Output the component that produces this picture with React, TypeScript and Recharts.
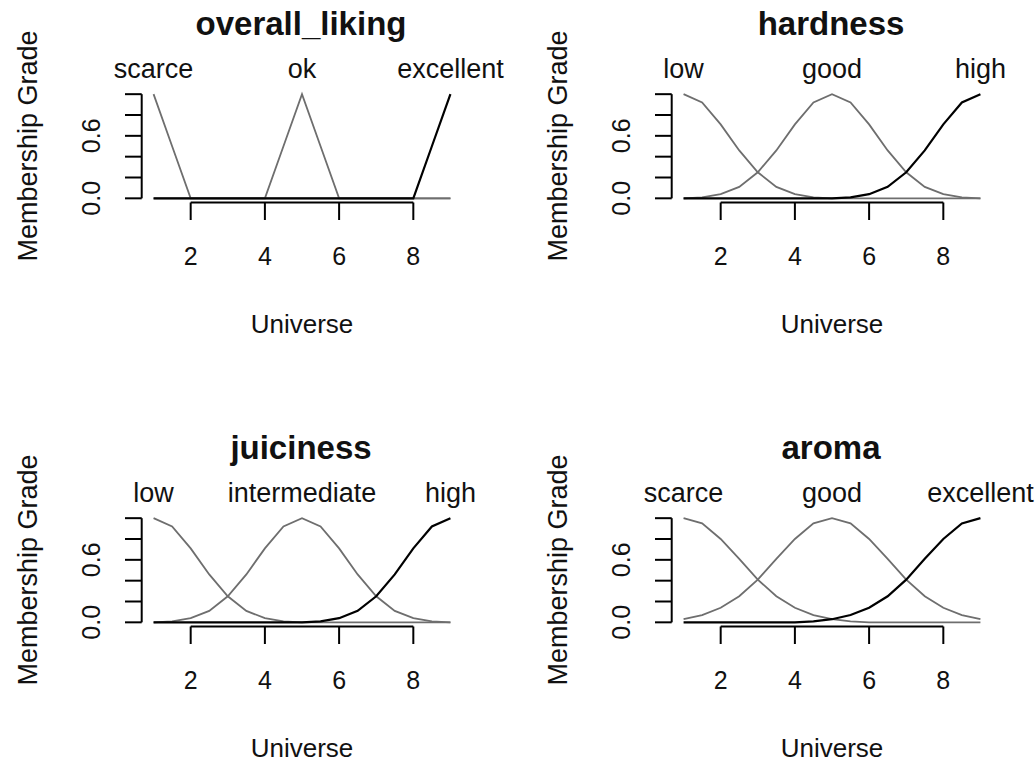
import React from 'react';
import { LineChart, Line, XAxis, YAxis, ReferenceLine, ReferenceDot } from 'recharts';

// universe sampled every 0.5
const universe = [1, 1.5, 2, 2.5, 3, 3.5, 4, 4.5, 5, 5.5, 6, 6.5, 7, 7.5, 8, 8.5, 9];

const likingNames = ['scarce', 'ok', 'excellent'];
const likingCenters = [1, 5, 9];
const likingScarce = [1, 0.5, 0, 0, 0, 0, 0, 0, 0, 0, 0, 0, 0, 0, 0, 0, 0];
const likingOk = [0, 0, 0, 0, 0, 0, 0, 0.5, 1, 0.5, 0, 0, 0, 0, 0, 0, 0];
const likingExcellent = [0, 0, 0, 0, 0, 0, 0, 0, 0, 0, 0, 0, 0, 0, 0, 0.5, 1];

const hardnessNames = ['low', 'good', 'high'];
const hardnessCenters = [1, 5, 9];
const hardnessLow = [1, 0.92, 0.71, 0.46, 0.25, 0.11, 0.04, 0.01, 0, 0, 0, 0, 0, 0, 0, 0, 0];
const hardnessGood = [0, 0.01, 0.04, 0.11, 0.25, 0.46, 0.71, 0.92, 1, 0.92, 0.71, 0.46, 0.25, 0.11, 0.04, 0.01, 0];
const hardnessHigh = [0, 0, 0, 0, 0, 0, 0, 0, 0, 0.01, 0.04, 0.11, 0.25, 0.46, 0.71, 0.92, 1];

const juicinessNames = ['low', 'intermediate', 'high'];
const juicinessCenters = [1, 5, 9];
const juicinessLow = [1, 0.92, 0.71, 0.46, 0.25, 0.11, 0.04, 0.01, 0, 0, 0, 0, 0, 0, 0, 0, 0];
const juicinessMid = [0, 0.01, 0.04, 0.11, 0.25, 0.46, 0.71, 0.92, 1, 0.92, 0.71, 0.46, 0.25, 0.11, 0.04, 0.01, 0];
const juicinessHigh = [0, 0, 0, 0, 0, 0, 0, 0, 0, 0.01, 0.04, 0.11, 0.25, 0.46, 0.71, 0.92, 1];

const aromaNames = ['scarce', 'good', 'excellent'];
const aromaCenters = [1, 5, 9];
const aromaScarce = [1, 0.95, 0.8, 0.61, 0.41, 0.25, 0.14, 0.07, 0.03, 0.01, 0, 0, 0, 0, 0, 0, 0];
const aromaGood = [0.03, 0.07, 0.14, 0.25, 0.41, 0.61, 0.8, 0.95, 1, 0.95, 0.8, 0.61, 0.41, 0.25, 0.14, 0.07, 0.03];
const aromaExcellent = [0, 0, 0, 0, 0, 0, 0, 0.01, 0.03, 0.07, 0.14, 0.25, 0.41, 0.61, 0.8, 0.95, 1];

const xTicks = [2, 4, 6, 8];
const yTicks = [0, 0.2, 0.4, 0.6, 0.8, 1];
const yLabelled = [0, 0.6];

const X_MIN = 0.68;
const X_MAX = 9.32;
const Y_MIN = -0.04;
const Y_MAX = 1.04;

const FONT = '"Liberation Sans", Arial, sans-serif';
const lineColors = ['#6e6e6e', '#6e6e6e', '#000000'];
const lineWidths = [1.8, 1.8, 2.2];

const XTick = (p: any) => (
  <text x={p.x} y={p.y + 43} textAnchor="middle" fontSize={25} fontFamily={FONT} fill="#111">
    {p.payload.value}
  </text>
);

const YTick = (p: any) => {
  const v = p.payload.value;
  if (!yLabelled.includes(v)) return <g />;
  const tx = p.x - 23;
  return (
    <text x={tx} y={p.y} transform={`rotate(-90, ${tx}, ${p.y})`} textAnchor="middle"
      fontSize={25} fontFamily={FONT} fill="#111">
      {v.toFixed(1)}
    </text>
  );
};

interface PanelProps {
  title: string;
  names: string[];
  centers: number[];
  series: number[][];
  left: number;
  top: number;
}

const Panel: React.FC<PanelProps> = ({ title, names, centers, series, left, top }) => {
  const rows = universe.map((x, i) => ({ x, s0: series[0][i], s1: series[1][i], s2: series[2][i] }));
  return (
    <div style={{ position: 'absolute', left, top, width: 518, height: 338 }}>
      <LineChart width={518} height={338} data={rows} margin={{ top: 90, right: 55.7, bottom: 95.5, left: 0 }}>
        <XAxis dataKey="x" type="number" domain={[X_MIN, X_MAX]} ticks={xTicks} interval={0} axisLine={false}
          tickLine={{ stroke: '#000', strokeWidth: 2 }} tickSize={17.5} height={40} tick={<XTick />} />
        <YAxis type="number" domain={[Y_MIN, Y_MAX]} ticks={yTicks} interval={0} axisLine={false} width={141.7}
          tickLine={{ stroke: '#000', strokeWidth: 2 }} tickSize={16.7} tick={<YTick />} />
        <ReferenceLine segment={[{ x: 2, y: Y_MIN }, { x: 8, y: Y_MIN }]} stroke="#000" strokeWidth={2} ifOverflow="visible" />
        <ReferenceLine segment={[{ x: X_MIN, y: 0 }, { x: X_MIN, y: 1 }]} stroke="#000" strokeWidth={2} ifOverflow="visible" />
        {[0, 1, 2].map((k) => (
          <Line key={k} type="linear" dataKey={`s${k}`} stroke={lineColors[k]} strokeWidth={lineWidths[k]}
            dot={false} isAnimationActive={false} />
        ))}
        {names.map((n, k) => (
          <ReferenceDot key={n} x={centers[k]} y={Y_MAX} r={0} ifOverflow="visible"
            shape={(p: any) => (
              <text x={p.cx} y={p.cy - 12} textAnchor="middle" fontSize={27} fontFamily={FONT} fill="#111">{n}</text>
            )} />
        ))}
      </LineChart>
      <svg width={518} height={338} style={{ position: 'absolute', left: 0, top: 0, pointerEvents: 'none' }}>
        <text x={301} y={35} textAnchor="middle" fontSize={33} fontWeight="bold" fontFamily={FONT} fill="#111">{title}</text>
        <text x={302} y={333} textAnchor="middle" fontSize={26} fontFamily={FONT} fill="#111">Universe</text>
        <text x={37} y={146} transform="rotate(-90, 37, 146)" textAnchor="middle" fontSize={27} fontFamily={FONT} fill="#111">
          Membership Grade
        </text>
      </svg>
    </div>
  );
};

export default function App() {
  return (
    <div style={{ position: 'absolute', left: 0, top: 0, width: 1036, height: 762, background: '#fff', overflow: 'hidden' }}>
      <Panel title="overall_liking" names={likingNames} centers={likingCenters}
        series={[likingScarce, likingOk, likingExcellent]} left={0} top={0} />
      <Panel title="hardness" names={hardnessNames} centers={hardnessCenters}
        series={[hardnessLow, hardnessGood, hardnessHigh]} left={530} top={0} />
      <Panel title="juiciness" names={juicinessNames} centers={juicinessCenters}
        series={[juicinessLow, juicinessMid, juicinessHigh]} left={0} top={424} />
      <Panel title="aroma" names={aromaNames} centers={aromaCenters}
        series={[aromaScarce, aromaGood, aromaExcellent]} left={530} top={424} />
    </div>
  );
}
